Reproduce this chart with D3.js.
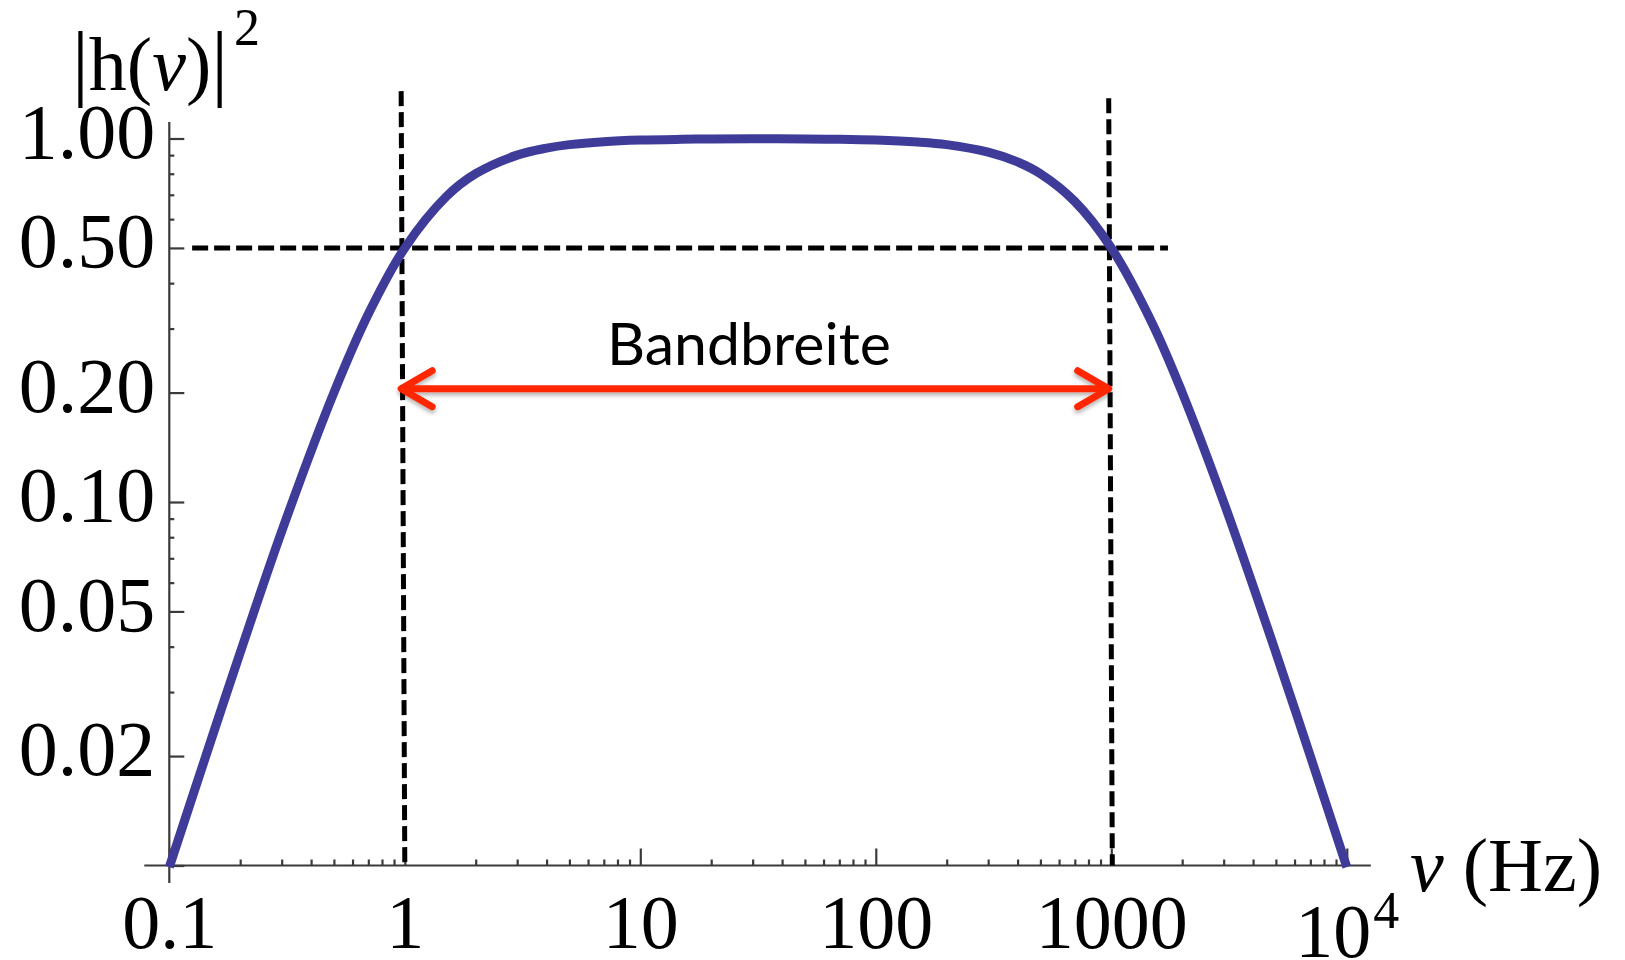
<!DOCTYPE html>
<html>
<head>
<meta charset="utf-8">
<script src="https://cdn.jsdelivr.net/npm/d3@7"></script>
<style>
  body { margin: 0; background: #fff; }
</style>
</head>
<body>
<script>
// Data

// frequency (Hz) and |h(nu)|^2 along the blue curve
const freqs = [0.1, 0.15, 0.2, 0.3, 0.5, 0.7, 1, 1.5, 2, 3, 4, 5, 7, 10, 15, 20, 30,
  50, 70, 100, 150, 200, 300, 400, 500, 700, 1000, 1500, 2000, 3000, 5000, 7000, 10000]
const gain = [0.0099, 0.022, 0.0385, 0.083, 0.2, 0.329, 0.5, 0.692, 0.8, 0.9, 0.941, 0.962,
  0.98, 0.99, 0.995, 0.997, 0.998, 0.997, 0.995, 0.99, 0.978, 0.962, 0.917, 0.862, 0.8,
  0.671, 0.5, 0.308, 0.2, 0.1, 0.0385, 0.02, 0.0099]

// axis ticks
const xMajor = [0.1, 1, 10, 100, 1000, 10000]
const xLabels = ["0.1", "1", "10", "100", "1000", "10^4"]
const yMajor = [1, 0.5, 0.2, 0.1, 0.05, 0.02, 0.01]
const yLabels = ["1.00", "0.50", "0.20", "0.10", "0.05", "0.02", ""]
const yMinor = [0.9, 0.8, 0.7, 0.6, 0.4, 0.3, 0.09, 0.08, 0.07, 0.06, 0.04, 0.03]

// annotations (data units)
const halfLine = { y: 0.5, from: 0.125, to: 1740 }
const cutoffs = [
  { top: 0.965, bottom: 1, yTop: 1.35 },
  { top: 975, bottom: 1010, yTop: 1.29 }
]
const band = { y: 0.205, from: 0.965, to: 975, label: "Bandbreite" }

// Dimensions
const width = 1625
const height = 960

const svg = d3.select("body")
  .append("svg")
  .attr("width", width)
  .attr("height", height)

svg.append("rect")
  .attr("width", width)
  .attr("height", height)
  .style("fill", "#fff")

const defs = svg.append("defs")
const shadow = defs.append("filter")
  .attr("id", "shadow")
  .attr("x", "-5%").attr("y", "-100%")
  .attr("width", "110%").attr("height", "300%")
shadow.append("feDropShadow")
  .attr("dx", 0).attr("dy", 3)
  .attr("stdDeviation", 2)
  .attr("flood-color", "#000")
  .attr("flood-opacity", 0.3)

// Scales
const x = d3.scaleLog().domain([0.1, 10000]).range([169.3, 1346.8])
const y = d3.scaleLog().domain([0.01, 1]).range([865.5, 138.5])

const axisColor = "#3a3a3a"
const serif = "'Liberation Serif', 'Times New Roman', serif"

// Axis lines (they run a bit past the origin)
svg.append("line")
  .attr("x1", x(0.1) - 25).attr("x2", x(10000) + 24)
  .attr("y1", y(0.01)).attr("y2", y(0.01))
  .style("stroke", axisColor).style("stroke-width", 2.2)

svg.append("line")
  .attr("x1", x(0.1)).attr("x2", x(0.1))
  .attr("y1", y(0.01) + 17.5).attr("y2", y(1) - 16.5)
  .style("stroke", axisColor).style("stroke-width", 2.2)

// X axis: minor ticks
const minorX = x.ticks().filter(t => !xMajor.some(m => Math.abs(m - t) < 1e-9))
svg.append("g")
  .attr("transform", `translate(0, ${y(0.01)})`)
  .call(d3.axisBottom(x).tickValues(minorX).tickSize(-6).tickFormat(""))
  .call(g => g.select(".domain").remove())
  .call(g => g.selectAll("line").style("stroke", axisColor).style("stroke-width", 2.2))

// X axis: major ticks + labels
const axisX = svg.append("g")
  .attr("transform", `translate(0, ${y(0.01)})`)
  .call(d3.axisBottom(x).tickValues(xMajor).tickSize(-17).tickPadding(28.5)
    .tickFormat((d, i) => xLabels[i]))
  .call(g => g.select(".domain").remove())
  .call(g => g.selectAll("line").style("stroke", axisColor).style("stroke-width", 2.2))

axisX.selectAll("text")
  .style("font-family", serif)
  .style("font-size", "76px")
  .style("fill", "#000")
  .each(function (d, i) {
    const label = xLabels[i]
    if (label.includes("^")) {
      const [base, exp] = label.split("^")
      const t = d3.select(this).text(null).attr("y", 37.5)
      t.append("tspan").text(base)
      t.append("tspan").text(exp).style("font-size", "52px").attr("dy", -29).attr("dx", 2)
    }
  })

// Y axis: minor ticks
svg.append("g")
  .attr("transform", `translate(${x(0.1)}, 0)`)
  .call(d3.axisLeft(y).tickValues(yMinor).tickSize(-5).tickFormat(""))
  .call(g => g.select(".domain").remove())
  .call(g => g.selectAll("line").style("stroke", axisColor).style("stroke-width", 2.2))

// Y axis: major ticks + labels
svg.append("g")
  .attr("transform", `translate(${x(0.1)}, 0)`)
  .call(d3.axisLeft(y).tickValues(yMajor).tickSize(-15).tickPadding(14)
    .tickFormat((d, i) => yLabels[i]))
  .call(g => g.select(".domain").remove())
  .call(g => g.selectAll("line").style("stroke", axisColor).style("stroke-width", 2.2))
  .call(g => g.selectAll("text")
    .attr("dy", "0.24em")
    .style("font-family", serif)
    .style("font-size", "78px")
    .style("fill", "#000"))

// Axis titles
const yTitle = svg.append("text")
  .attr("x", 72)
  .attr("y", 90)
  .style("font-family", serif)
  .style("font-size", "76px")
  .style("fill", "#000")
yTitle.append("tspan").text("|").style("font-size", "84px")
yTitle.append("tspan").text("h(")
yTitle.append("tspan").text("ν").style("font-style", "italic")
yTitle.append("tspan").text(")")
yTitle.append("tspan").text("|").style("font-size", "84px")
yTitle.append("tspan").text("2").style("font-size", "52px").attr("dx", 6).attr("dy", -45)

const xTitle = svg.append("text")
  .attr("x", 1410)
  .attr("y", 891)
  .style("font-family", serif)
  .style("font-size", "76px")
  .style("fill", "#000")
xTitle.append("tspan").text("ν").style("font-style", "italic")
xTitle.append("tspan").text(" (Hz)")

// Dashed guide lines
svg.append("line")
  .attr("x1", x(halfLine.from)).attr("x2", x(halfLine.to))
  .attr("y1", y(halfLine.y)).attr("y2", y(halfLine.y))
  .style("stroke", "#000").style("stroke-width", 5)
  .style("stroke-dasharray", "16,6")

svg.append("g")
  .selectAll("line")
  .data(cutoffs)
  .join("line")
  .attr("x1", d => x(d.top)).attr("y1", d => y(d.yTop))
  .attr("x2", d => x(d.bottom)).attr("y2", y(0.01))
  .style("stroke", "#000").style("stroke-width", 5)
  .style("stroke-dasharray", "15,6")

// The curve
const points = freqs.map((f, i) => [f, gain[i]])
svg.append("path")
  .datum(points)
  .attr("d", d3.line()
    .x(d => x(d[0]))
    .y(d => y(d[1]))
    .curve(d3.curveCatmullRom.alpha(0.5)))
  .style("fill", "none")
  .style("stroke", "#3f3c99")
  .style("stroke-width", 9)

// Bandwidth arrow
const ax0 = x(band.from)
const ax1 = x(band.to)
const ay = y(band.y)
const arrow = svg.append("g")
  .attr("filter", "url(#shadow)")
  .style("fill", "none")
  .style("stroke", "#ff2600")
  .style("stroke-width", 7)
  .style("stroke-linecap", "round")
  .style("stroke-linejoin", "round")

arrow.append("line")
  .attr("x1", ax0 + 2).attr("x2", ax1 - 2)
  .attr("y1", ay).attr("y2", ay)
arrow.append("path")
  .attr("d", `M${ax0 + 31},${ay - 18}L${ax0},${ay}L${ax0 + 31},${ay + 18}`)
arrow.append("path")
  .attr("d", `M${ax1 - 31},${ay - 18}L${ax1},${ay}L${ax1 - 31},${ay + 18}`)

svg.append("text")
  .attr("x", (ax0 + ax1) / 2 - 6)
  .attr("y", ay - 23.5)
  .attr("text-anchor", "middle")
  .style("font-family", "Lato, 'Open Sans', sans-serif")
  .style("font-size", "59px")
  .style("fill", "#000")
  .text(band.label)
</script>
</body>
</html>
